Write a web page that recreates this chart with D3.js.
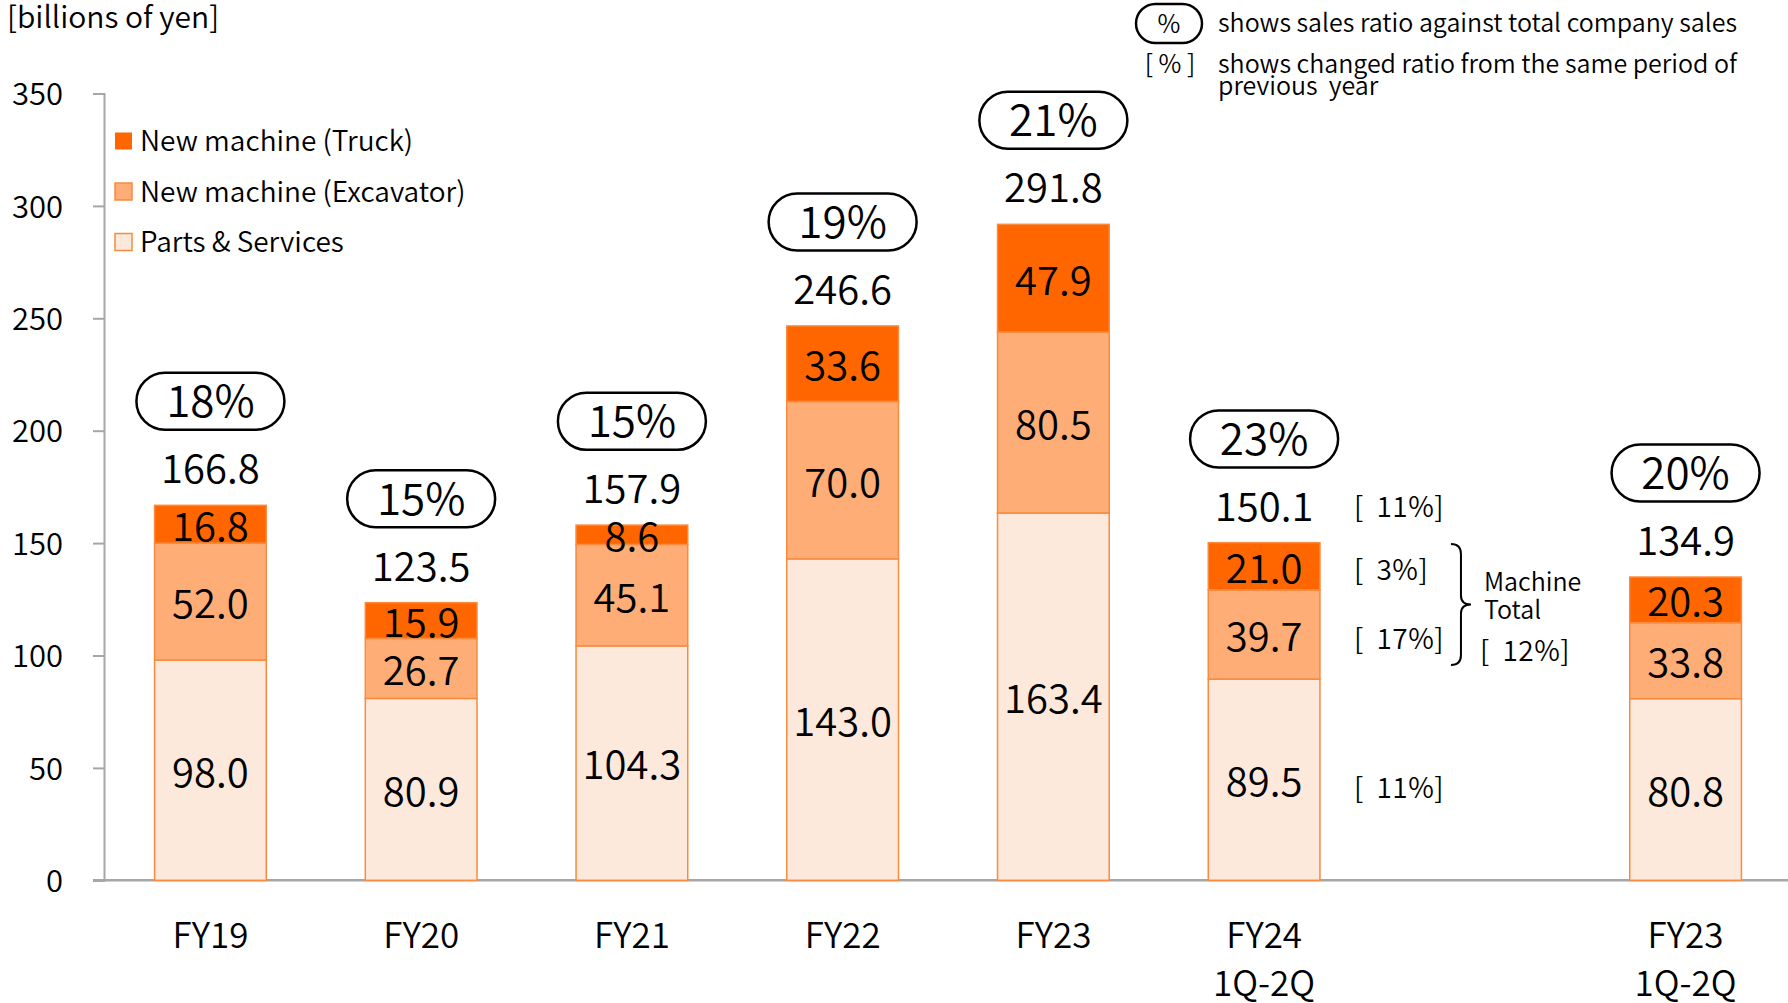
<!DOCTYPE html>
<html>
<head>
<meta charset="utf-8">
<script src="https://cdn.jsdelivr.net/npm/d3@7"></script>
<style>
  body { margin: 0; background: #fff; }
  text { font-family: "Noto Sans CJK JP", "Noto Sans", sans-serif; font-weight: 350; fill: #000; white-space: pre; }
</style>
</head>
<body>
<div id="chart"></div>
<script>
//////////////////////////////////////////////////////////////
//////////////////////////// Data ////////////////////////////
//////////////////////////////////////////////////////////////

// one empty slot between FY24 1Q-2Q and FY23 1Q-2Q
const slots = ["FY19", "FY20", "FY21", "FY22", "FY23", "FY24\n1Q-2Q", "", "FY23\n1Q-2Q"]
const categories = ["FY19", "FY20", "FY21", "FY22", "FY23", "FY24\n1Q-2Q", "FY23\n1Q-2Q"]

const parts     = [98.0, 80.9, 104.3, 143.0, 163.4, 89.5, 80.8]
const excavator = [52.0, 26.7, 45.1, 70.0, 80.5, 39.7, 33.8]
const truck     = [16.8, 15.9, 8.6, 33.6, 47.9, 21.0, 20.3]
const totals    = [166.8, 123.5, 157.9, 246.6, 291.8, 150.1, 134.9]
const salesRatio = ["18%", "15%", "15%", "19%", "21%", "23%", "20%"]

// FY24 1Q-2Q change vs same period of previous year
const yoyTotal = "[ 11%]"
const yoyTruck = "[ 3%]"
const yoyExcavator = "[ 17%]"
const yoyParts = "[ 11%]"
const yoyMachine = "[ 12%]"

const seriesKeys = ["parts", "excavator", "truck"]
const seriesNames = ["New machine (Truck)", "New machine (Excavator)", "Parts & Services"]
const yTicks = [0, 50, 100, 150, 200, 250, 300, 350]

//Colors
const colors = { truck: "#FF6600", excavator: "#FFAD76", parts: "#FDE9DB" }
const edgeColor = "#F98A3E"

//////////////////////////////////////////////////////////////
//////////////////////// Create SVG //////////////////////////
//////////////////////////////////////////////////////////////

const width = 1788
const height = 1003
const fontFam = '"Noto Sans CJK JP", "Noto Sans", sans-serif'

const svg = d3.select("#chart").append("svg")
    .attr("width", width)
    .attr("height", height)

const x = d3.scaleBand()
    .domain(slots)
    .range([104, 1792])
    .paddingInner(0.47)
    .paddingOuter(0.24)

const y = d3.scaleLinear()
    .domain([0, 350])
    .range([880.3, 93.5])

//////////////////////////////////////////////////////////////
/////////////////////////// Axes /////////////////////////////
//////////////////////////////////////////////////////////////

const yAxis = svg.append("g")
    .attr("transform", "translate(104,0)")
    .call(d3.axisLeft(y).tickValues(yTicks).tickSize(11).tickPadding(30))
yAxis.select(".domain").attr("stroke", "#A6A6A6").attr("stroke-width", 2)
yAxis.selectAll(".tick line").attr("stroke", "#A6A6A6").attr("stroke-width", 2)
yAxis.selectAll(".tick text")
    .style("font-family", fontFam)
    .style("font-size", "31px")
    .attr("fill", "#000")
    .attr("dy", "0.36em")

// baseline
svg.append("line")
    .attr("x1", 93).attr("x2", width)
    .attr("y1", y(0)).attr("y2", y(0))
    .attr("stroke", "#A6A6A6")
    .attr("stroke-width", 2.5)

//unit label
svg.append("text")
    .attr("x", 7)
    .attr("y", 28)
    .style("font-size", "30px")
    .text("[billions of yen]")

//////////////////////////////////////////////////////////////
/////////////////////////// Bars /////////////////////////////
//////////////////////////////////////////////////////////////

const rows = categories.map((c, i) => ({
    cat: c, parts: parts[i], excavator: excavator[i], truck: truck[i],
    total: totals[i], ratio: salesRatio[i]
}))

const stacked = d3.stack().keys(seriesKeys)(rows)

const barGroup = svg.append("g").attr("class", "bars")

stacked.forEach(layer => {
    barGroup.selectAll(".bar-" + layer.key)
        .data(layer)
        .enter().append("rect")
        .attr("class", "bar-" + layer.key)
        .attr("x", d => x(d.data.cat))
        .attr("width", x.bandwidth())
        .attr("y", d => y(d[1]))
        .attr("height", d => y(d[0]) - y(d[1]))
        .attr("fill", colors[layer.key])
        .attr("stroke", edgeColor)
        .attr("stroke-width", 1.5)

    barGroup.selectAll(".label-" + layer.key)
        .data(layer)
        .enter().append("text")
        .attr("class", "label-" + layer.key)
        .attr("x", d => x(d.data.cat) + x.bandwidth() / 2)
        .attr("y", d => y((d[0] + d[1]) / 2) + 2)
        .attr("dy", "0.36em")
        .attr("text-anchor", "middle")
        .style("font-size", "40px")
        .text(d => d.data[layer.key].toFixed(1))
})

//totals
barGroup.selectAll(".total")
    .data(rows)
    .enter().append("text")
    .attr("class", "total")
    .attr("x", d => x(d.cat) + x.bandwidth() / 2)
    .attr("y", d => y(d.total) - 22)
    .attr("text-anchor", "middle")
    .style("font-size", "40px")
    .text(d => d.total.toFixed(1))

//sales ratio pills
const pillW = 148, pillH = 57
const pills = barGroup.selectAll(".pill")
    .data(rows)
    .enter().append("g")
    .attr("class", "pill")
    .attr("transform", d => "translate(" + [x(d.cat) + x.bandwidth() / 2, y(d.total) - 104] + ")")

pills.append("rect")
    .attr("x", -pillW / 2).attr("y", -pillH / 2)
    .attr("width", pillW).attr("height", pillH)
    .attr("rx", pillH / 2)
    .attr("fill", "#fff")
    .attr("stroke", "#000")
    .attr("stroke-width", 2.5)

pills.append("text")
    .attr("text-anchor", "middle")
    .attr("dy", "0.36em")
    .style("font-size", "44px")
    .text(d => d.ratio)

//category labels
const xLabels = svg.append("g").attr("class", "x-labels")
categories.forEach(c => {
    const t = xLabels.append("text")
        .attr("x", x(c) + x.bandwidth() / 2)
        .attr("y", 948)
        .attr("text-anchor", "middle")
        .style("font-size", "35px")
    c.split("\n").forEach((line, j) => {
        t.append("tspan")
            .attr("x", x(c) + x.bandwidth() / 2)
            .attr("dy", j === 0 ? 0 : 48)
            .text(line)
    })
})

//////////////////////////////////////////////////////////////
/////////////////////// Annotations //////////////////////////
//////////////////////////////////////////////////////////////

const fy24 = rows[5]
const fy24Stack = stacked.map(l => l[5])
const annX = x(fy24.cat) + x.bandwidth() + 34
const ann = svg.append("g").attr("class", "annotations")
    .style("font-size", "28px")
    .style("word-spacing", "6px")
    .style("letter-spacing", "0.5px")

ann.append("text").attr("x", annX).attr("y", y(fy24.total) - 36).attr("dy", "0.36em").text(yoyTotal)
ann.append("text").attr("x", annX).attr("y", y((fy24Stack[2][0] + fy24Stack[2][1]) / 2) + 4).attr("dy", "0.36em").text(yoyTruck)
ann.append("text").attr("x", annX).attr("y", y((fy24Stack[1][0] + fy24Stack[1][1]) / 2) + 4).attr("dy", "0.36em").text(yoyExcavator)
ann.append("text").attr("x", annX).attr("y", y((fy24Stack[0][0] + fy24Stack[0][1]) / 2) + 8).attr("dy", "0.36em").text(yoyParts)

//curly brace
const bx = x(fy24.cat) + x.bandwidth() + 131
const bTop = y(fy24.total) + 1
const bBot = y(fy24.parts) - 14
const bMid = (bTop + bBot) / 2
const bracePath = "M" + [bx, bTop] +
    " Q" + [bx + 10, bTop] + " " + [bx + 10, bTop + 10] +
    " L" + [bx + 10, bMid - 9] +
    " Q" + [bx + 10, bMid] + " " + [bx + 20, bMid] +
    " Q" + [bx + 10, bMid] + " " + [bx + 10, bMid + 9] +
    " L" + [bx + 10, bBot - 10] +
    " Q" + [bx + 10, bBot] + " " + [bx, bBot]
ann.append("path")
    .attr("d", bracePath)
    .attr("fill", "none")
    .attr("stroke", "#000")
    .attr("stroke-width", 2)

ann.append("text").attr("x", bx + 33).attr("y", bMid - 22).attr("dy", "0.36em").style("font-size", "25px").style("letter-spacing", "0px").text("Machine")
ann.append("text").attr("x", bx + 33).attr("y", bMid + 6).attr("dy", "0.36em").style("font-size", "25px").style("letter-spacing", "0px").text("Total")
ann.append("text").attr("x", bx + 29).attr("y", bMid + 46).attr("dy", "0.36em").text(yoyMachine)

//////////////////////////////////////////////////////////////
////////////////////////// Legends ///////////////////////////
//////////////////////////////////////////////////////////////

const legendColors = [colors.truck, colors.excavator, colors.parts]
const legend = svg.append("g").attr("class", "legend")
seriesNames.forEach((name, i) => {
    const ly = 141 + i * 50.5
    legend.append("rect")
        .attr("x", 115).attr("y", ly - 8.5)
        .attr("width", 17).attr("height", 17)
        .attr("fill", legendColors[i])
        .attr("stroke", i === 0 ? "none" : edgeColor)
        .attr("stroke-width", 1.5)
    legend.append("text")
        .attr("x", 140).attr("y", ly)
        .attr("dy", "0.36em")
        .style("font-size", "28px")
        .text(name)
})

//top-right notes
const notes = svg.append("g").attr("class", "notes").style("font-size", "25px")
notes.append("rect")
    .attr("x", 1136).attr("y", 4)
    .attr("width", 66).attr("height", 39)
    .attr("rx", 19.5)
    .attr("fill", "#fff").attr("stroke", "#000").attr("stroke-width", 2.5)
notes.append("text").attr("x", 1169).attr("y", 24).attr("dy", "0.36em").attr("text-anchor", "middle").text("%")
notes.append("text").attr("x", 1218).attr("y", 23).attr("dy", "0.36em").text("shows sales ratio against total company sales")
notes.append("text").attr("x", 1170).attr("y", 64).attr("dy", "0.36em").attr("text-anchor", "middle").text("[ % ]")
notes.append("text").attr("x", 1218).attr("y", 64).attr("dy", "0.36em").text("shows changed ratio from the same period of")
notes.append("text").attr("x", 1218).attr("y", 86).attr("dy", "0.36em").text("previous  year")
</script>
</body>
</html>
